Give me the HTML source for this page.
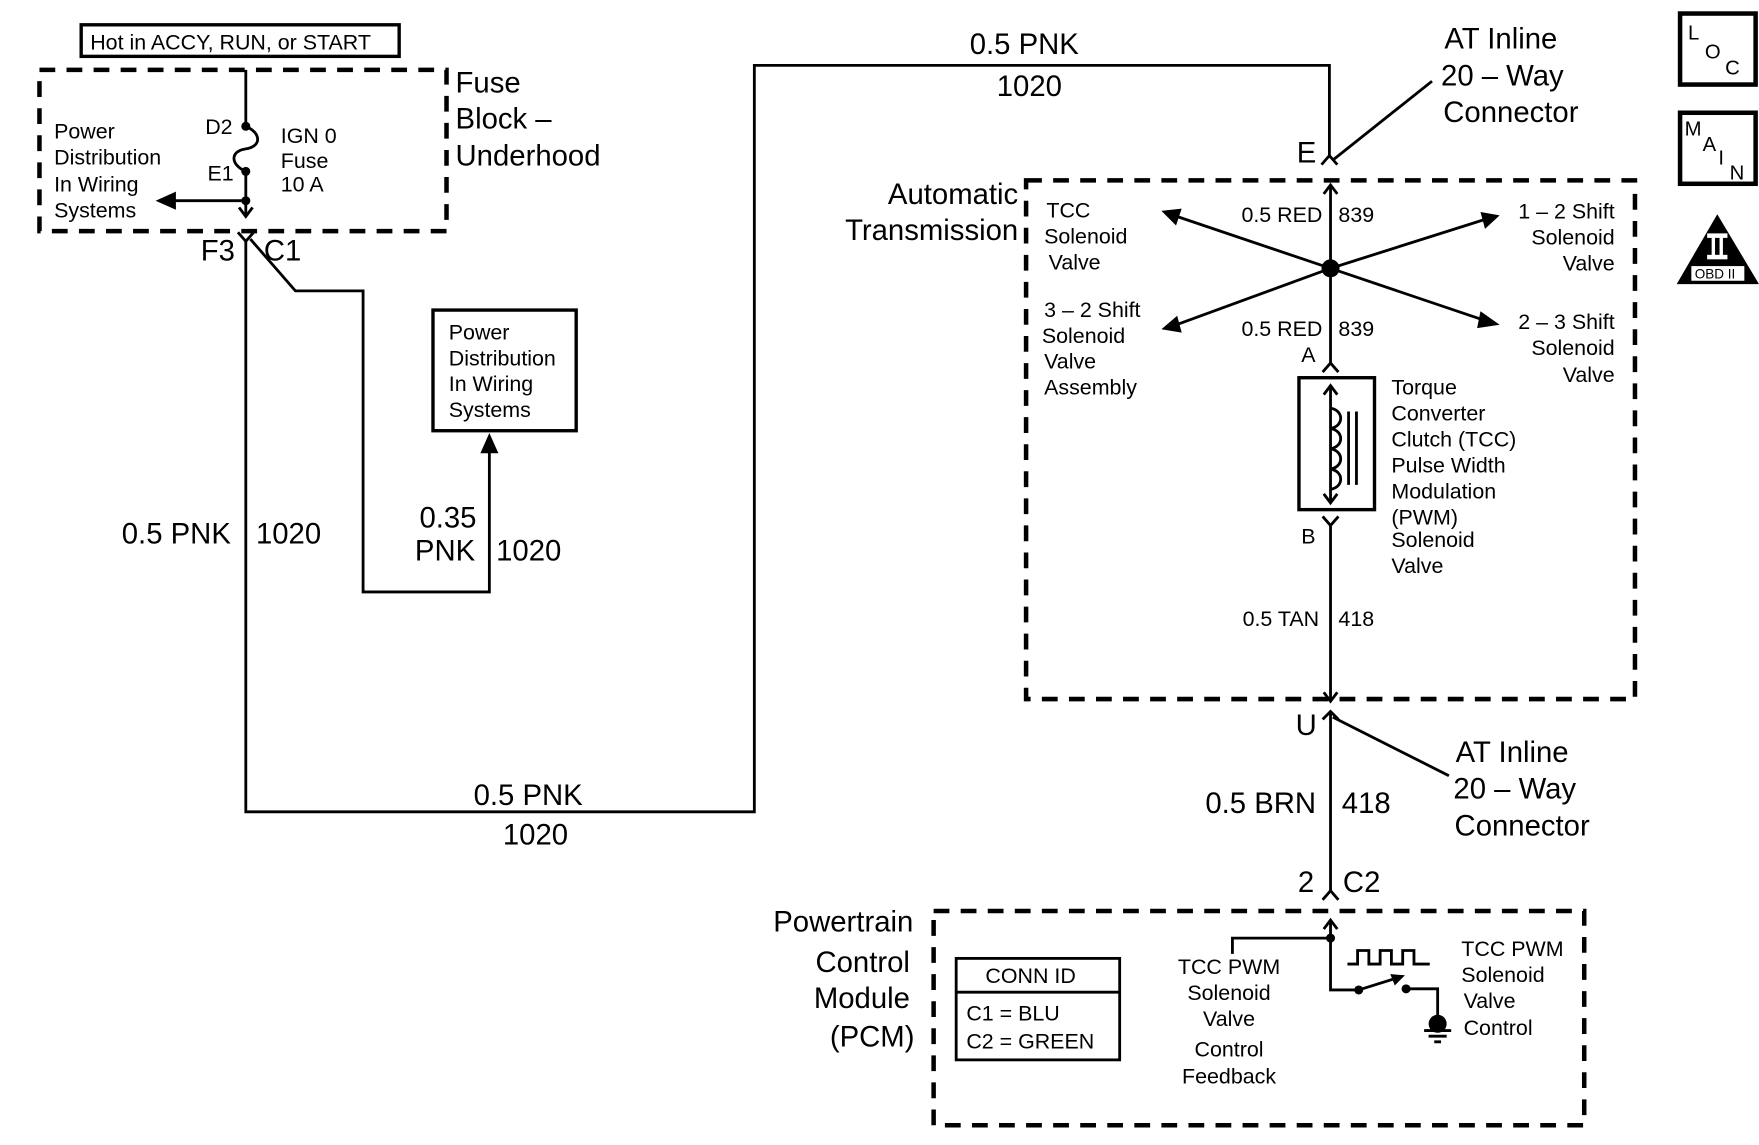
<!DOCTYPE html>
<html><head><meta charset="utf-8"><style>
html,body{margin:0;padding:0;background:#fff;}
svg{display:block;}
text{font-family:"Liberation Sans",sans-serif;fill:#000;}
.s{font-size:19px;}
.l{font-size:26px;}
</style></head><body>
<svg width="1759" height="1145" viewBox="0 0 1560 1015.5" preserveAspectRatio="none" xmlns="http://www.w3.org/2000/svg">
<g fill="none" stroke="#000" stroke-width="2.5">
<rect x="72" y="22" width="282" height="28" stroke-width="3"/>
<rect x="35" y="62" width="361" height="143" stroke-width="4" stroke-dasharray="14 10"/>
<path d="M218 62 V112 C232 118,232 130,218 132 C204 134,204 146,218 152 V192"/>
<path d="M212 184 L218 192 L224 184"/>
<path d="M218 178 H150"/>
<path d="M218 214 V720 H669 V58 H1179 V140"/>
<path d="M222 212 L262 258 H322 V525 H434 V395"/>
<path d="M211 206 L218 214 L225 206"/>
<rect x="384" y="275" width="127" height="107" stroke-width="3"/>
<path d="M1172 146 L1179 138 L1186 146"/>
<path d="M1270 72 L1182 142"/>
<rect x="910" y="160" width="540" height="460" stroke-width="4" stroke-dasharray="14 10"/>
<path d="M1180 166 V322"/>
<path d="M1174 172 L1180 164 L1186 172"/>
<path d="M1180 238 L1038 190"/>
<path d="M1180 238 L1322 193"/>
<path d="M1180 238 L1038 290"/>
<path d="M1180 238 L1322 286"/>
<path d="M1173 330 L1180 322 L1187 330"/>
<rect x="1152" y="335" width="67" height="117" stroke-width="3"/>
<path d="M1180 342 V446"/>
<path d="M1174 350 L1180 342 L1186 350"/>
<path d="M1174 438 L1180 446 L1186 438"/>
<path d="M1180 362 C1192 364,1192 378,1180 380 C1192 382,1192 396,1180 398 C1192 400,1192 414,1180 416 C1192 418,1192 432,1180 434"/>
<path d="M1196 365 V430 M1203 365 V430"/>
<path d="M1173 458 L1180 466 L1187 458 M1180 466 V620"/>
<path d="M1174 614 L1180 622 L1186 614"/>
<path d="M1173 638 L1180 631 L1187 638 M1180 631 V790"/>
<path d="M1182 636 L1285 688"/>
<path d="M1173 798 L1180 790 L1187 798"/>
<rect x="828" y="808" width="577" height="190" stroke-width="4" stroke-dasharray="14 10"/>
<path d="M1180 816 V878 H1205"/>
<path d="M1174 824 L1180 816 L1186 824"/>
<path d="M1093 846 V832 H1180"/>
<path d="M1205 878 L1240 867"/>
<path d="M1247 877 H1275 V905"/>
<path d="M1195 855 H1204 V843 H1214 V855 H1224 V843 H1234 V855 H1244 V843 H1254 V855 H1268"/>
<path d="M1263 914 H1287 M1267 919 H1283 M1272 924 H1278"/>
<rect x="848" y="850" width="145" height="90" stroke-width="2.5"/>
<path d="M848 880 H993"/>
<rect x="1490" y="12" width="67" height="63" stroke-width="4"/>
<rect x="1490" y="100" width="67" height="63" stroke-width="4"/>
</g>
<g fill="#000">
<circle cx="218" cy="112" r="4"/><circle cx="218" cy="152" r="4"/><circle cx="218" cy="178" r="4"/>
<path d="M138 178 L156 170 L156 186z"/>
<path d="M434 384 L426 402 L442 402z"/>
<circle cx="1180" cy="238" r="8"/>
<path d="M1030 187 L1048 185 L1043 200z"/>
<path d="M1330 191 L1313 188 L1317 203z"/>
<path d="M1030 292 L1044 280 L1048 295z"/>
<path d="M1330 288 L1313 276 L1310 291z"/>
<circle cx="1180" cy="832" r="4"/><circle cx="1205" cy="878" r="4"/><circle cx="1247" cy="877" r="4"/>
<path d="M1246 865 L1233 864 L1237 874z"/>
<circle cx="1275" cy="908" r="8"/>
<path d="M1523 190 L1560 252 L1487 252z"/>
</g>
<rect x="1500" y="236" width="47" height="13" fill="#fff"/>
<rect x="1514" y="207" width="18" height="4" fill="#fff"/>
<rect x="1514" y="226" width="18" height="4" fill="#fff"/>
<rect x="1518" y="209" width="3" height="19" fill="#fff"/>
<rect x="1525" y="209" width="3" height="19" fill="#fff"/>
<text x="1503" y="247" style="font-size:12px">OBD II</text>
<text x="1497" y="35" style="font-size:18px">L</text><text x="1512" y="52" style="font-size:18px">O</text><text x="1530" y="66" style="font-size:18px">C</text>
<text x="1494" y="120" style="font-size:18px">M</text><text x="1510" y="134" style="font-size:18px">A</text><text x="1524" y="146" style="font-size:18px">I</text><text x="1534" y="159" style="font-size:18px">N</text>

<text class="s" x="80" y="44">Hot in ACCY, RUN, or START</text>
<text class="s" x="48" y="123">Power</text><text class="s" x="48" y="146">Distribution</text><text class="s" x="48" y="170">In Wiring</text><text class="s" x="48" y="193">Systems</text>
<text class="s" x="182" y="119">D2</text><text class="s" x="184" y="160">E1</text>
<text class="s" x="249" y="127">IGN 0</text><text class="s" x="249" y="149">Fuse</text><text class="s" x="249" y="170">10 A</text>
<text class="l" x="404" y="82">Fuse</text><text class="l" x="404" y="114">Block –</text><text class="l" x="404" y="147">Underhood</text>
<text class="l" x="178" y="231">F3</text><text class="l" x="234" y="231">C1</text>
<text class="s" x="398" y="301">Power</text><text class="s" x="398" y="324">Distribution</text><text class="s" x="398" y="347">In Wiring</text><text class="s" x="398" y="370">Systems</text>
<text class="l" x="108" y="482">0.5 PNK</text><text class="l" x="227" y="482">1020</text>
<text class="l" x="372" y="468">0.35</text><text class="l" x="368" y="497">PNK</text><text class="l" x="440" y="497">1020</text>
<text class="l" x="420" y="714">0.5 PNK</text><text class="l" x="446" y="749">1020</text>
<text class="l" x="860" y="48">0.5 PNK</text><text class="l" x="884" y="85">1020</text>
<text class="l" x="1281" y="43">AT Inline</text><text class="l" x="1278" y="76">20 – Way</text><text class="l" x="1280" y="108">Connector</text>
<text class="l" x="1150" y="144">E</text>
<text class="l" x="903" y="181" text-anchor="end">Automatic</text><text class="l" x="903" y="213" text-anchor="end">Transmission</text>
<text class="s" x="928" y="193">TCC</text><text class="s" x="926" y="216">Solenoid</text><text class="s" x="930" y="239">Valve</text>
<text class="s" x="926" y="281">3 – 2 Shift</text><text class="s" x="924" y="304">Solenoid</text><text class="s" x="926" y="327">Valve</text><text class="s" x="926" y="350">Assembly</text>
<text class="s" x="1432" y="194" text-anchor="end">1 – 2 Shift</text><text class="s" x="1432" y="217" text-anchor="end">Solenoid</text><text class="s" x="1432" y="240" text-anchor="end">Valve</text>
<text class="s" x="1432" y="292" text-anchor="end">2 – 3 Shift</text><text class="s" x="1432" y="315" text-anchor="end">Solenoid</text><text class="s" x="1432" y="339" text-anchor="end">Valve</text>
<text class="s" x="1101" y="197">0.5 RED</text><text class="s" x="1187" y="197">839</text>
<text class="s" x="1101" y="298">0.5 RED</text><text class="s" x="1187" y="298">839</text>
<text class="s" x="1154" y="321">A</text><text class="s" x="1154" y="482">B</text>
<text class="s" x="1234" y="350">Torque</text><text class="s" x="1234" y="373">Converter</text><text class="s" x="1234" y="396">Clutch (TCC)</text><text class="s" x="1234" y="419">Pulse Width</text><text class="s" x="1234" y="442">Modulation</text><text class="s" x="1234" y="465">(PWM)</text><text class="s" x="1234" y="485">Solenoid</text><text class="s" x="1234" y="508">Valve</text>
<text class="s" x="1102" y="555">0.5 TAN</text><text class="s" x="1187" y="555">418</text>
<text class="l" x="1149" y="652">U</text>
<text class="l" x="1291" y="676">AT Inline</text><text class="l" x="1289" y="708">20 – Way</text><text class="l" x="1290" y="741">Connector</text>
<text class="l" x="1069" y="721">0.5 BRN</text><text class="l" x="1190" y="721">418</text>
<text class="l" x="1151" y="791">2</text><text class="l" x="1191" y="791">C2</text>
<text class="l" x="810" y="826" text-anchor="end">Powertrain</text><text class="l" x="807" y="862" text-anchor="end">Control</text><text class="l" x="807" y="894" text-anchor="end">Module</text><text class="l" x="811" y="928" text-anchor="end">(PCM)</text>
<text class="s" x="914" y="872" text-anchor="middle">CONN ID</text>
<text class="s" x="857" y="905">C1 = BLU</text><text class="s" x="857" y="930">C2 = GREEN</text>
<text class="s" x="1090" y="864" text-anchor="middle">TCC PWM</text><text class="s" x="1090" y="887" text-anchor="middle">Solenoid</text><text class="s" x="1090" y="910" text-anchor="middle">Valve</text><text class="s" x="1090" y="937" text-anchor="middle">Control</text><text class="s" x="1090" y="961" text-anchor="middle">Feedback</text>
<text class="s" x="1296" y="848">TCC PWM</text><text class="s" x="1296" y="871">Solenoid</text><text class="s" x="1298" y="894">Valve</text><text class="s" x="1298" y="918">Control</text>
</svg>
</body></html>
